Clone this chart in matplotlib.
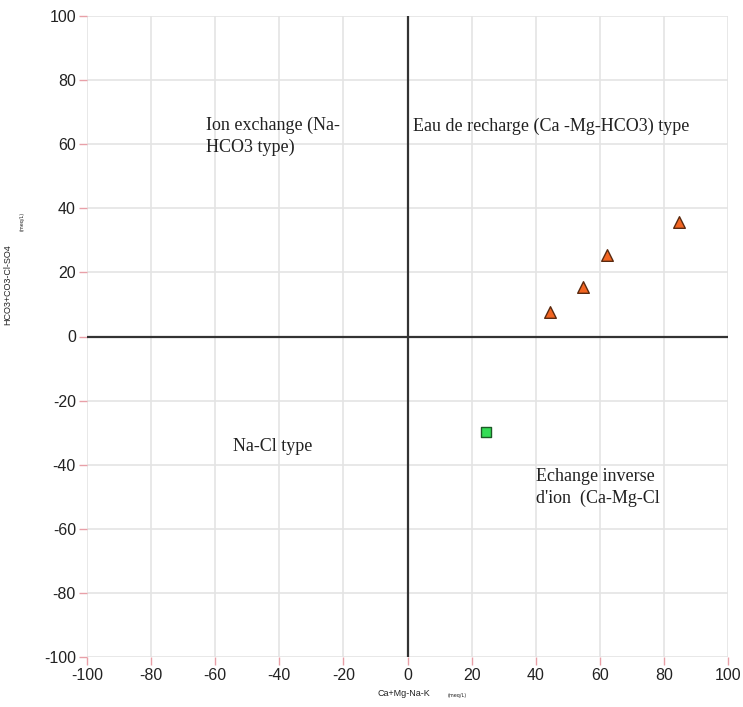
import matplotlib
matplotlib.use("Agg")
import matplotlib.pyplot as plt

plt.rcParams["axes.unicode_minus"] = False

# Sample positions: cation balance vs. anion balance (meq/L)
tri_x = [44.4, 54.7, 62.2, 84.7]
tri_y = [7.8, 15.3, 25.5, 35.8]
sq_x = [24.4]
sq_y = [-29.9]

ticks = [-100, -80, -60, -40, -20, 0, 20, 40, 60, 80, 100]

fig = plt.figure(figsize=(7.43, 7.07), dpi=100)
ax = fig.add_axes([87 / 743, 1 - 657 / 707, 641 / 743, 641 / 707])
ax.set_xlim(-100, 100)
ax.set_ylim(-100, 100)
ax.set_xticks(ticks)
ax.set_yticks(ticks)
for s in ax.spines.values():
    s.set_visible(False)
ax.grid(True, color="#e4e4e4", linewidth=1.2)
ax.set_axisbelow(True)
ax.tick_params(axis="both", colors="#e8a0a8", length=6, width=1, pad=2,
               labelcolor="#222222", labelsize=11.5)
for lbl in ax.get_xticklabels() + ax.get_yticklabels():
    lbl.set_family("Liberation Sans")

ax.axhline(0, color="#333333", linewidth=1.6, zorder=2)
ax.axvline(0, color="#333333", linewidth=1.6, zorder=2)

ax.scatter(tri_x, tri_y, marker="^", s=70, facecolor="#f26522",
           edgecolor="#5a2a10", linewidth=1.0, zorder=3)
ax.scatter(sq_x, sq_y, marker="s", s=55, facecolor="#33dd55",
           edgecolor="#1d5a27", linewidth=1.0, zorder=3)

serif = dict(family="Liberation Serif", fontsize=13, color="#222222")
ax.text(-63, 62.5, "Ion exchange (Na-\nHCO3 type)", va="center", ha="left",
        linespacing=1.35, **serif)
ax.text(1.8, 65.7, "Eau de recharge (Ca -Mg-HCO3) type", va="center",
        ha="left", **serif)
ax.text(-54.6, -34.3, "Na-Cl type", va="center", ha="left", **serif)
ax.text(40, -47, "Echange inverse\nd'ion  (Ca-Mg-Cl", va="center",
        ha="left", linespacing=1.35, **serif)

fig.text(404 / 743, 1 - 693 / 707, "Ca+Mg-Na-K", fontsize=6.5, ha="center",
         va="center", color="#222222", family="Liberation Sans")
fig.text(457 / 743, 1 - 696 / 707, "(meq/L)", fontsize=3.5, ha="center",
         va="center", color="#222222")
fig.text(8 / 743, 1 - 285 / 707, "HCO3+CO3-Cl-SO4", fontsize=6.5,
         rotation=90, ha="center", va="center", color="#222222",
         family="Liberation Sans")
fig.text(22 / 743, 1 - 221 / 707, "(meq/L)", fontsize=3.5, rotation=90,
         ha="center", va="center", color="#222222")

fig.savefig("out.png", dpi=100, facecolor="white")
